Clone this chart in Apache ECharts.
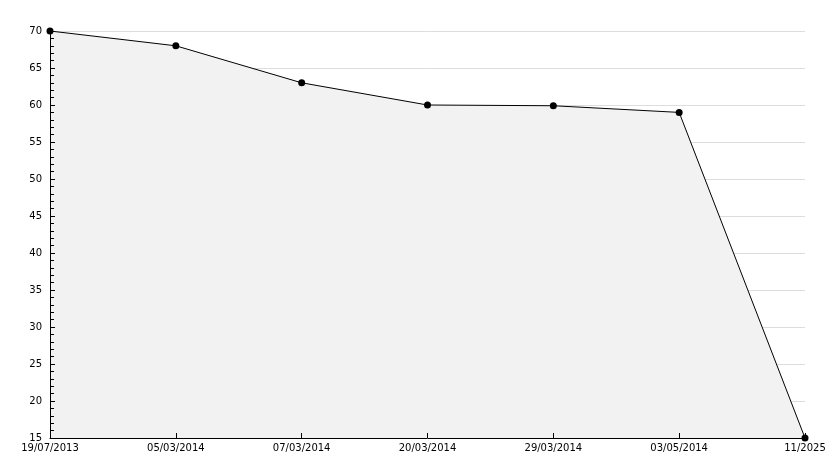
<!DOCTYPE html>
<html><head><meta charset="utf-8">
<script src="https://cdn.jsdelivr.net/npm/echarts@6/dist/echarts.min.js"></script>
<style>html,body{margin:0;padding:0;background:#fff}#c{width:834px;height:468px}</style>
</head><body><div id="c"></div>
<script>
var categories = ['19/07/2013','05/03/2014','07/03/2014','20/03/2014','29/03/2014','03/05/2014','11/2025'];
var values = [70, 68, 63, 60, 59.9, 59, 15];
var yMin = 15, yMax = 70, yStep = 5;
var gridValues = [20, 25, 30, 35, 40, 45, 50, 55, 60, 65, 70];

var chart = echarts.init(document.getElementById('c'), null, {renderer:'canvas'});
var font = 'DejaVu Sans';
chart.setOption({
  animation:false,
  backgroundColor:'#fff',
  grid:{left:50,right:29,top:31,bottom:30,containLabel:false},
  xAxis:{
    type:'category', data:categories, boundaryGap:false, z:20,
    axisLine:{lineStyle:{color:'#000',width:1}},
    axisTick:{inside:true,length:5,alignWithLabel:true,lineStyle:{color:'#000'}},
    axisLabel:{color:'#000',fontFamily:font,fontSize:10,margin:5,showMinLabel:true,showMaxLabel:true,interval:0},
    splitLine:{show:false}
  },
  yAxis:{
    type:'value', min:yMin, max:yMax, interval:yStep, z:20,
    axisLine:{show:true,lineStyle:{color:'#000',width:1}},
    axisTick:{show:true,inside:true,length:5,lineStyle:{color:'#000'}},
    minorTick:{show:true,splitNumber:5,length:4,lineStyle:{color:'#000'}},
    axisLabel:{color:'#000',fontFamily:font,fontSize:10,margin:8},
    splitLine:{show:false}
  },
  series:[{
    type:'line', data:[], z:1,
    markLine:{
      silent:true, symbol:'none', animation:false, z:1,
      label:{show:false},
      lineStyle:{color:'#dddddd',width:1,type:'solid'},
      data: gridValues.map(function(v){return {yAxis:v};})
    }
  },{
    type:'line', data:values, z:12,
    symbol:'none', showSymbol:false, silent:true,
    lineStyle:{width:0,opacity:0},
    areaStyle:{color:'rgba(242,242,242,1)',opacity:1,origin:'start'}
  },{
    type:'line', data:values, z:30,
    symbol:'circle', symbolSize:7, showSymbol:true,
    itemStyle:{color:'#000'},
    lineStyle:{color:'#000',width:1}
  }]
});
</script></body></html>
